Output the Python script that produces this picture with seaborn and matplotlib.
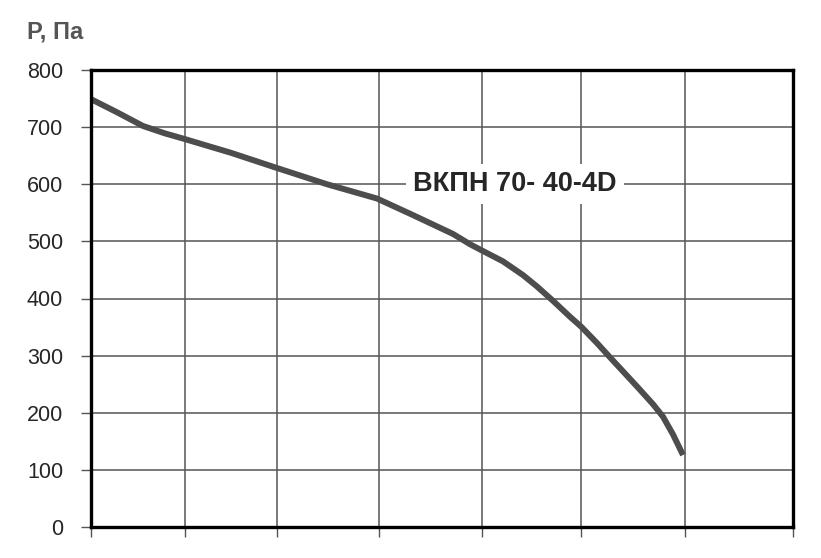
import numpy as np
import pandas as pd
import matplotlib
matplotlib.use("Agg")
import matplotlib.pyplot as plt
import seaborn as sns

# fan curve (x in arbitrary units, no labels on x axis)
flow = [0, 26, 52, 74, 94, 140, 185, 236, 286, 322, 362, 379, 391, 412,
        432, 446, 462, 479, 490, 506, 519, 546, 562, 572, 582, 592]
pressure = [749, 726, 702, 689, 679, 655, 629, 600, 575, 546, 513, 495, 484,
            465, 441, 421, 396, 368, 351, 322, 297, 246, 215, 193, 162, 126]

x_grid = [0, 94, 186, 288, 391, 490, 594, 702]
y_ticks = [0, 100, 200, 300, 400, 500, 600, 700, 800]
model_name = "ВКПН 70- 40-4D"

df = pd.DataFrame({"flow": flow, "pressure": pressure})

sns.set_style("white")
plt.rcParams['font.family'] = ['Liberation Sans', 'DejaVu Sans']

fig = plt.figure(figsize=(8.21, 5.58), dpi=100)
ax = fig.add_axes([91 / 821, 1 - 527 / 558, 702 / 821, 457 / 558])

sns.lineplot(data=df, x="flow", y="pressure", sort=False, ax=ax,
             color="#4d4d4d", linewidth=4.3, zorder=3,
             solid_joinstyle="round", solid_capstyle="butt")

ax.set_xlim(0, 702)
ax.set_ylim(0, 800)
ax.set_xticks(x_grid)
ax.set_xticklabels([])
ax.set_yticks(y_ticks)
ax.set_yticklabels([str(v) for v in y_ticks], fontsize=15.5)
ax.grid(True, color="#555555", linewidth=1.1)
ax.tick_params(axis="both", direction="out", length=7, width=1,
               color="#555555", left=True, bottom=True, pad=13)
for sp in ax.spines.values():
    sp.set_color("black")
    sp.set_linewidth(2.4)
    sp.set_zorder(4)
ax.set_xlabel("")
ax.set_ylabel("")

ax.text(424, 600, model_name, fontsize=19.5, fontweight="bold", ha="center",
        va="center", zorder=5,
        bbox=dict(facecolor="white", edgecolor="none", pad=5))

fig.text(27 / 821, 1 - 32 / 558, "P, Па", fontsize=17, fontweight="bold",
         color="#555555", ha="left", va="center")

fig.savefig("out.png", dpi=100)
